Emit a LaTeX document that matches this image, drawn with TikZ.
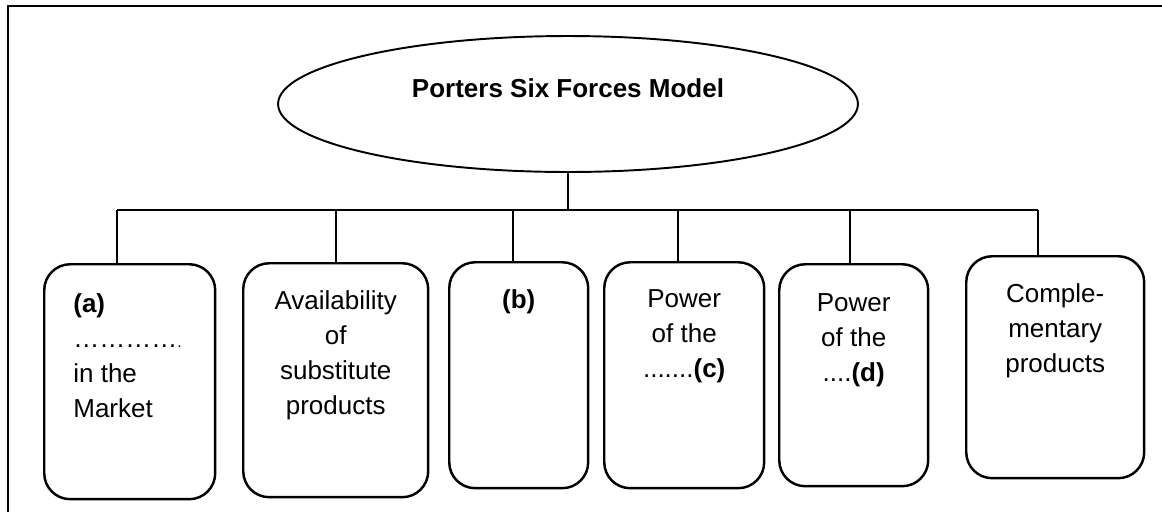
\documentclass[tikz,border=0pt]{standalone}
\usepackage{fontspec}
\setmainfont{Liberation Sans}
\usetikzlibrary{shapes.geometric}

\begin{document}
\begin{tikzpicture}[x=0.02cm,y=-0.02cm]
    \tikzstyle{force}=[draw,line width=1.4pt,rounded corners=0.52cm,inner sep=0pt,anchor=north west]
    \tikzstyle{forcetext}=[anchor=north,inner sep=0pt,align=center,font=\fontsize{14.8}{19.9}\selectfont]
    \tikzstyle{wire}=[line width=1.1pt]
    \useasboundingbox (0,0) rectangle (1162,512);
    % frame, cut off on the right and at the bottom
    \draw[wire] (1162,6) -- (8,6) -- (8,512);
    \node[draw,ellipse,line width=1.1pt,minimum width=11.6cm,minimum height=2.72cm] (model) at (568,104) {};
    \node[forcetext,anchor=center,font=\bfseries\fontsize{14.8}{19.9}\selectfont] (title) at (568,88) {Porters Six Forces Model};
    % the six forces
    \node[force,minimum width=3.42cm,minimum height=4.7cm] (fa) at (43,263) {};
    \node[force,minimum width=3.7cm,minimum height=4.68cm] (subst) at (242,262) {};
    \node[force,minimum width=2.78cm,minimum height=4.52cm] (fb) at (448,261) {};
    \node[force,minimum width=3.2cm,minimum height=4.52cm] (fc) at (603,261) {};
    \node[force,minimum width=2.98cm,minimum height=4.44cm] (fd) at (778,263) {};
    \node[force,minimum width=3.56cm,minimum height=4.44cm] (compl) at (965,255) {};
    \node[forcetext,anchor=north west,align=left] (ta) at ([xshift=0.6cm,yshift=-0.6cm]fa.north west) {\textbf{(a)}\\…………{\small.}\\in the\\Market};
    \node[forcetext] (tsubst) at ([yshift=-0.56cm]subst.north) {Availability\\of\\substitute\\products};
    \node[forcetext] (tb) at ([yshift=-0.56cm]fb.north) {\textbf{(b)}};
    \node[forcetext] (tc) at ([yshift=-0.56cm]fc.north) {Power\\of the\\.......\textbf{(c)}};
    \node[forcetext] (td) at ([yshift=-0.6cm]fd.north) {Power\\of the\\....\textbf{(d)}};
    \node[forcetext] (tcompl) at ([yshift=-0.56cm]compl.north) {Comple-\\mentary\\products};
    % connectors
    \foreach \j/\x in {ja/117,js/336,jb/513,jc/678,jd/850,jm/1038}
        \coordinate (\j) at (\x,210);
    \coordinate (bus) at (568,210);
    \draw[wire] (model.south) -- (bus);
    \draw[wire] (ja) -- (jm);
    \foreach \j/\f in {ja/fa,js/subst,jb/fb,jc/fc,jd/fd,jm/compl}
        \draw[wire] (\j) -- (\f.north -| \j);
\end{tikzpicture}
\end{document}
